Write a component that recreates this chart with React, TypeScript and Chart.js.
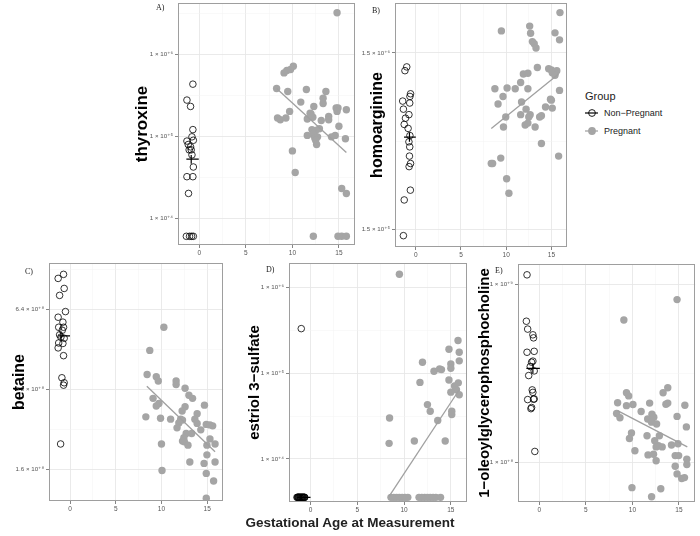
import React, { useEffect, useRef } from "react";
import { Chart, registerables } from "chart.js";
Chart.register(...registerables);

const FONT = "'Liberation Sans', Arial, 'DejaVu Sans', sans-serif";

// ---------- shared x axis ----------
const xMin = -2.3;
const xMax = 16.75;
const xMajorTicks = [0, 5, 10, 15];
const xMinorTicks = [2.5, 7.5, 12.5];

// ---------- A) thyroxine ----------
const thyNonPregAge = [-0.7, -1.34, -0.95, -0.7, -0.8, -0.65, -1.34, -1.2, -0.95, -0.88, -1.1, -0.8, -0.65, -1.34, -0.7, -1.17, -1.4, -1.06, -0.84, -0.65];
const thyNonPregValue = [4.3e5, 2.75e5, 2.3e5, 1.2e5, 9.8e4, 8.9e4, 8.7e4, 7.9e4, 7.4e4, 6.8e4, 6.8e4, 5.9e4, 4.2e4, 3.2e4, 3.2e4, 2.0e4, 6.0e3, 6.0e3, 6.0e3, 6.0e3];
const thyPregAge = [14.8, 9.1, 9.4, 9.8, 10.1, 8.3, 9.5, 11.5, 10.9, 13.6, 13.3, 12.3, 13.3, 14.7, 14.9, 15.8, 14.8, 9.7, 8.4, 8.7, 9.3, 11.6, 11.9, 12.0, 12.2, 13.9, 13.9, 13.1, 15.0, 12.1, 12.5, 12.9, 11.6, 12.2, 12.4, 12.7, 12.5, 12.6, 14.2, 14.6, 15.7, 10.0, 10.3, 15.3, 15.8, 12.25, 14.9, 15.3, 15.8];
const thyPregValue = [3.2e6, 5.9e5, 6.3e5, 6.5e5, 7.1e5, 3.8e5, 3.5e5, 3.7e5, 2.6e5, 3.5e5, 2.9e5, 2.3e5, 2.5e5, 2.2e5, 2.2e5, 2.1e5, 2.0e5, 2.0e5, 1.66e5, 1.58e5, 1.66e5, 1.62e5, 1.9e5, 1.86e5, 1.7e5, 1.74e5, 1.58e5, 1.55e5, 1.32e5, 1.2e5, 1.17e5, 1.23e5, 1.02e5, 1.05e5, 9.5e4, 9.8e4, 8.9e4, 7.9e4, 9.8e4, 1.02e5, 9.3e4, 6.6e4, 3.6e4, 2.3e4, 2.0e4, 6.0e3, 6.0e3, 6.0e3, 6.0e3];
const thyFitAge = [8.3, 15.8];
const thyFitValue = [3.8e5, 6.3e4];
const thyMeanAge = [-1.4, -0.07];
const thyMeanValue = 5.25e4;
const thyMeanBarAge = -0.88;
const thyMeanBarRange = [4.6e4, 5.9e4];
const thyMajorTicks = [1e4, 1e5, 1e6];
const thyMajorLabels = ["1 × 10⁺⁴", "1 × 10⁺⁵", "1 × 10⁺⁶"];
const thyMinorTicks = [3.16e4, 3.16e5, 3.16e6];
const thyRange = [4.7e3, 4.2e6];

// ---------- B) homoarginine ----------
const homNonPregAge = [-1.0, -1.2, -0.58, -0.65, -1.45, -0.67, -1.37, -0.76, -1.14, -1.28, -0.85, -0.65, -0.76, -0.67, -0.7, -0.58, -0.74, -0.6, -1.28, -1.37];
const homNonPregValue = [1.25e6, 1.19e6, 8.8e5, 8.5e5, 8.0e5, 7.8e5, 7.2e5, 6.7e5, 6.4e5, 5.9e5, 5.6e5, 5.1e5, 4.7e5, 4.4e5, 3.9e5, 3.54e5, 3.4e5, 2.5e5, 2.2e5, 1.38e5];
const homPregAge = [15.95, 9.47, 12.6, 12.7, 12.9, 13.1, 13.3, 15.4, 15.9, 13.45, 14.7, 15.0, 15.1, 15.6, 15.4, 11.9, 12.4, 11.6, 8.75, 10.1, 11.0, 12.4, 9.65, 15.9, 9.1, 11.7, 14.9, 15.0, 14.35, 15.1, 12.2, 11.6, 12.65, 12.5, 9.95, 13.7, 13.9, 12.1, 12.4, 13.2, 9.7, 13.9, 15.8, 8.35, 8.5, 9.4, 10.05, 10.3];
const homPregValue = [2.54e6, 2.0e6, 2.13e6, 1.94e6, 1.74e6, 1.69e6, 1.6e6, 1.95e6, 1.78e6, 1.24e6, 1.22e6, 1.2e6, 1.16e6, 1.19e6, 1.12e6, 1.14e6, 1.15e6, 1.02e6, 9.4e5, 9.5e5, 9.4e5, 9.4e5, 8.5e5, 9.2e5, 7.7e5, 7.9e5, 8.2e5, 8.1e5, 7.4e5, 7.3e5, 7.2e5, 6.7e5, 6.7e5, 6.5e5, 6.5e5, 6.5e5, 6.6e5, 5.85e5, 6.0e5, 5.7e5, 5.7e5, 4.6e5, 3.9e5, 3.54e5, 3.54e5, 3.8e5, 2.9e5, 2.4e5];
const homFitAge = [8.35, 15.8];
const homFitValue = [5.6e5, 1.14e6];
const homMeanAge = [-1.3, 0.0];
const homMeanValue = 5.0e5;
const homMeanBarAge = -0.7;
const homMeanBarRange = [4.7e5, 5.3e5];
const homMajorTicks = [1.5e5, 1.5e6];
const homMajorLabels = ["1.5 × 10⁺⁵", "1.5 × 10⁺⁶"];
const homMinorTicks = [4.74e5];
const homRange = [1.19e5, 2.88e6];

// ---------- C) betaine ----------
const betNonPregAge = [-0.71, -1.3, -0.64, -1.14, -0.5, -1.3, -0.78, -1.24, -0.71, -0.85, -1.14, -0.64, -1.0, -1.24, -0.78, -1.3, -0.71, -0.89, -0.64, -0.71, -1.03];
const betNonPregValue = [8.7e8, 8.4e8, 7.7e8, 7.25e8, 6.3e8, 6.0e8, 5.75e8, 5.5e8, 5.5e8, 5.36e8, 5.15e8, 5.0e8, 5.05e8, 4.8e8, 4.78e8, 4.6e8, 4.3e8, 3.55e8, 3.4e8, 3.33e8, 2.0e8];
const betPregAge = [10.26, 8.72, 8.43, 9.43, 9.65, 11.6, 11.6, 12.58, 13.0, 13.4, 9.08, 9.72, 9.43, 12.58, 12.26, 14.7, 13.9, 8.29, 9.9, 11.0, 12.1, 12.3, 13.65, 13.9, 11.9, 11.7, 14.3, 14.9, 15.3, 15.6, 13.3, 12.7, 12.45, 12.3, 12.5, 15.3, 10.0, 12.9, 14.97, 15.86, 14.97, 13.1, 14.66, 15.86, 10.06, 14.9, 15.7, 14.9];
const betPregValue = [5.5e8, 4.5e8, 3.65e8, 3.58e8, 3.45e8, 3.45e8, 3.35e8, 3.24e8, 3.05e8, 2.97e8, 2.97e8, 2.84e8, 2.78e8, 2.76e8, 2.66e8, 2.8e8, 2.6e8, 2.53e8, 2.5e8, 2.48e8, 2.48e8, 2.46e8, 2.48e8, 2.39e8, 2.4e8, 2.3e8, 2.26e8, 2.37e8, 2.36e8, 2.34e8, 2.19e8, 2.19e8, 2.11e8, 2.05e8, 2.04e8, 2.09e8, 2.0e8, 1.98e8, 1.98e8, 2.0e8, 1.82e8, 1.71e8, 1.69e8, 1.71e8, 1.59e8, 1.55e8, 1.45e8, 1.25e8];
const betFitAge = [8.4, 15.86];
const betFitValue = [3.3e8, 1.87e8];
const betMeanAge = [-1.3, 0.0];
const betMeanValue = 5.1e8;
const betMeanBarAge = -1.0;
const betMeanBarRange = [4.93e8, 5.3e8];
const betMajorTicks = [1.6e8, 3.2e8, 6.4e8];
const betMajorLabels = ["1.6 × 10⁺⁸", "3.2 × 10⁺⁸", "6.4 × 10⁺⁸"];
const betMinorTicks = [2.26e8, 4.53e8, 9.05e8];
const betRange = [1.22e8, 9.6e8];

// ---------- D) estriol 3-sulfate ----------
const estNonPregAge = [-0.99, -1.45, -1.38, -1.3, -1.22, -1.15, -1.08, -1.0, -0.92, -0.85, -0.78, -0.7, -0.62, -1.35, -1.1, -0.95, -0.8, -1.25, -0.65];
const estNonPregValue = [3.3e5, 3.57e3, 3.57e3, 3.57e3, 3.57e3, 3.57e3, 3.57e3, 3.57e3, 3.57e3, 3.57e3, 3.57e3, 3.57e3, 3.57e3, 3.57e3, 3.57e3, 3.57e3, 3.57e3, 3.57e3, 3.57e3];
const estPregAge = [9.5, 15.77, 14.8, 15.9, 11.97, 15.0, 15.9, 13.2, 13.8, 14.0, 15.0, 11.7, 14.8, 15.8, 15.4, 15.6, 15.0, 15.9, 12.5, 12.8, 15.1, 15.1, 8.45, 13.6, 11.1, 8.4, 14.4, 8.6, 8.9, 9.2, 9.5, 9.8, 10.1, 10.4, 11.6, 11.9, 12.2, 12.5, 12.8, 13.1, 13.4, 13.9];
const estPregValue = [1.42e6, 2.4e5, 1.9e5, 1.75e5, 1.34e5, 1.28e5, 1.39e5, 1.05e5, 1.12e5, 1.1e5, 1.14e5, 7.8e4, 8.3e4, 7.7e4, 7.1e4, 6.4e4, 6.0e4, 5.6e4, 4.3e4, 3.6e4, 3.6e4, 3.3e4, 3.0e4, 2.8e4, 1.62e4, 1.52e4, 1.62e4, 3.57e3, 3.57e3, 3.57e3, 3.57e3, 3.57e3, 3.57e3, 3.57e3, 3.57e3, 3.57e3, 3.57e3, 3.57e3, 3.57e3, 3.57e3, 3.57e3, 3.57e3];
const estFitAge = [8.4, 15.9];
const estFitValue = [3.66e3, 6.4e4];
const estMeanAge = [-1.45, 0.0];
const estMeanValue = 3.57e3;
const estMeanBarAge = -1.0;
const estMeanBarRange = [3.5e3, 3.65e3];
const estMajorTicks = [1e4, 1e5, 1e6];
const estMajorLabels = ["1 × 10⁺⁴", "1 × 10⁺⁵", "1 × 10⁺⁶"];
const estMinorTicks = [3.16e4, 3.16e5];
const estRange = [3.15e3, 1.92e6];

// ---------- E) 1-oleoylglycerophosphocholine ----------
const oleNonPregAge = [-1.33, -1.4, -1.26, -0.7, -0.63, -1.33, -0.56, -0.84, -0.7, -0.98, -0.56, -1.15, -0.77, -0.7, -1.26, -0.63, -0.56, -0.84, -0.91, -0.49];
const oleNonPregValue = [1.13e9, 6.2e8, 5.6e8, 5.2e8, 5.0e8, 4.15e8, 4.2e8, 3.65e8, 3.7e8, 3.45e8, 3.26e8, 3.07e8, 2.55e8, 2.47e8, 2.25e8, 2.26e8, 2.27e8, 2.03e8, 2.0e8, 1.15e8];
const olePregAge = [14.8, 9.08, 13.8, 13.3, 9.36, 9.6, 8.41, 9.36, 10.06, 11.85, 13.6, 13.8, 15.64, 8.3, 8.66, 10.94, 12.1, 12.3, 11.64, 12.06, 12.6, 14.8, 15.8, 9.9, 9.68, 11.57, 12.9, 12.4, 12.8, 13.2, 12.55, 14.2, 14.9, 10.27, 11.68, 12.27, 12.55, 14.6, 14.97, 15.85, 14.6, 15.85, 14.8, 15.3, 15.6, 9.95, 13.05, 12.06];
const olePregValue = [8.2e8, 6.3e8, 2.62e8, 2.46e8, 2.46e8, 2.36e8, 2.16e8, 2.08e8, 2.11e8, 2.15e8, 2.12e8, 2.15e8, 2.09e8, 1.88e8, 1.78e8, 1.93e8, 1.86e8, 1.79e8, 1.75e8, 1.68e8, 1.64e8, 1.81e8, 1.58e8, 1.46e8, 1.36e8, 1.41e8, 1.41e8, 1.32e8, 1.24e8, 1.22e8, 1.22e8, 1.25e8, 1.27e8, 1.16e8, 1.1e8, 1.11e8, 1.02e8, 1.09e8, 1.09e8, 1.04e8, 9.5e7, 9.7e7, 8.6e7, 8.1e7, 8.2e7, 7.2e7, 7.1e7, 6.4e7];
const oleFitAge = [8.4, 15.9];
const oleFitValue = [1.95e8, 1.22e8];
const oleMeanAge = [-1.4, 0.05];
const oleMeanValue = 3.37e8;
const oleMeanBarAge = -0.7;
const oleMeanBarRange = [3.16e8, 3.6e8];
const oleMajorTicks = [1e8, 1e9];
const oleMajorLabels = ["1 × 10⁺⁸", "1 × 10⁺⁹"];
const oleMinorTicks = [3.16e8];
const oleRange = [5.98e7, 1.3e9];

const PREG_COLOR = "#a5a5a5";

type Spec = {
  tag: string;
  title: string;
  titleSize: number;
  nonAge: number[]; nonVal: number[];
  pAge: number[]; pVal: number[];
  fitAge: number[]; fitVal: number[];
  meanAge: number[]; meanVal: number; barAge: number; barRange: number[];
  major: number[]; majorLabels: string[]; minor: number[]; range: number[];
  plot: { l: number; t: number; r: number; b: number };
  canvasLeft: number; titleCenter: number;
  tagPos: { x: number; y: number };
};

const specs: Spec[] = [
  { tag: "A)", title: "thyroxine", titleSize: 17, nonAge: thyNonPregAge, nonVal: thyNonPregValue, pAge: thyPregAge, pVal: thyPregValue, fitAge: thyFitAge, fitVal: thyFitValue, meanAge: thyMeanAge, meanVal: thyMeanValue, barAge: thyMeanBarAge, barRange: thyMeanBarRange, major: thyMajorTicks, majorLabels: thyMajorLabels, minor: thyMinorTicks, range: thyRange,
    plot: { l: 178, t: 3, r: 358, b: 245 }, canvasLeft: 126, titleCenter: 142, tagPos: { x: 156, y: 3 } },
  { tag: "B)", title: "homoarginine", titleSize: 16, nonAge: homNonPregAge, nonVal: homNonPregValue, pAge: homPregAge, pVal: homPregValue, fitAge: homFitAge, fitVal: homFitValue, meanAge: homMeanAge, meanVal: homMeanValue, barAge: homMeanBarAge, barRange: homMeanBarRange, major: homMajorTicks, majorLabels: homMajorLabels, minor: homMinorTicks, range: homRange,
    plot: { l: 395, t: 3, r: 570, b: 247 }, canvasLeft: 355, titleCenter: 378, tagPos: { x: 372, y: 6 } },
  { tag: "C)", title: "betaine", titleSize: 16, nonAge: betNonPregAge, nonVal: betNonPregValue, pAge: betPregAge, pVal: betPregValue, fitAge: betFitAge, fitVal: betFitValue, meanAge: betMeanAge, meanVal: betMeanValue, barAge: betMeanBarAge, barRange: betMeanBarRange, major: betMajorTicks, majorLabels: betMajorLabels, minor: betMinorTicks, range: betRange,
    plot: { l: 49, t: 263, r: 226, b: 501 }, canvasLeft: 0, titleCenter: 20, tagPos: { x: 25, y: 267 } },
  { tag: "D)", title: "estriol 3−sulfate", titleSize: 15, nonAge: estNonPregAge, nonVal: estNonPregValue, pAge: estPregAge, pVal: estPregValue, fitAge: estFitAge, fitVal: estFitValue, meanAge: estMeanAge, meanVal: estMeanValue, barAge: estMeanBarAge, barRange: estMeanBarRange, major: estMajorTicks, majorLabels: estMajorLabels, minor: estMinorTicks, range: estRange,
    plot: { l: 289, t: 263, r: 470, b: 502 }, canvasLeft: 238, titleCenter: 255, tagPos: { x: 266, y: 265 } },
  { tag: "E)", title: "1−oleoylglycerophosphocholine", titleSize: 15, nonAge: oleNonPregAge, nonVal: oleNonPregValue, pAge: olePregAge, pVal: olePregValue, fitAge: oleFitAge, fitVal: oleFitValue, meanAge: oleMeanAge, meanVal: oleMeanValue, barAge: oleMeanBarAge, barRange: oleMeanBarRange, major: oleMajorTicks, majorLabels: oleMajorLabels, minor: oleMinorTicks, range: oleRange,
    plot: { l: 518, t: 264, r: 698, b: 502 }, canvasLeft: 468, titleCenter: 485, tagPos: { x: 495, y: 266 } },
];

const PAD_TOP = 10;
const PAD_RIGHT = 2;
const X_AXIS_H = 15;

const borderPlugin = {
  id: "panelBorder",
  afterDatasetsDraw(chart: any) {
    const { ctx, chartArea } = chart;
    const { left, top, right, bottom } = chartArea;
    ctx.save();
    ctx.strokeStyle = "#9e9e9e";
    ctx.lineWidth = 1;
    ctx.strokeRect(Math.round(left) + 0.5, Math.round(top) + 0.5, Math.round(right - left) - 1, Math.round(bottom - top) - 1);
    ctx.restore();
  },
};

const near = (a: number, b: number) => Math.abs(a - b) / Math.abs(b) < 1e-6;

function Panel({ s }: { s: Spec }) {
  const ref = useRef<HTMLCanvasElement>(null);
  const cTop = s.plot.t - PAD_TOP;
  const cW = s.plot.r + PAD_RIGHT - s.canvasLeft;
  const cH = s.plot.b + X_AXIS_H - cTop;
  const yAxisW = s.plot.l - s.canvasLeft;
  const titlePad = s.titleCenter - s.canvasLeft - (s.titleSize * 1.2) / 2;

  useEffect(() => {
    const yTicks = [...s.major, ...s.minor].sort((a, b) => a - b);
    const xTicks = [...xMajorTicks, ...xMinorTicks].sort((a, b) => a - b);
    const isYMajor = (v: number) => s.major.some((m) => near(v, m));
    const isXMajor = (v: number) => xMajorTicks.includes(v);
    const chart = new Chart(ref.current as HTMLCanvasElement, {
      type: "scatter",
      data: {
        datasets: [
          { label: "mean", data: s.meanAge.map((x) => ({ x, y: s.meanVal })), showLine: true, borderColor: "#000", borderWidth: 1.2, pointRadius: 0, order: 0 } as any,
          { label: "meanbar", data: s.barRange.map((y) => ({ x: s.barAge, y })), showLine: true, borderColor: "#000", borderWidth: 1.2, pointRadius: 0, order: 0 } as any,
          { label: "fit", data: s.fitAge.map((x, i) => ({ x, y: s.fitVal[i] })), showLine: true, borderColor: "#a0a0a0", borderWidth: 1.3, pointRadius: 0, order: 1 } as any,
          { label: "Non-Pregnant", data: s.nonAge.map((x, i) => ({ x, y: s.nonVal[i] })), pointRadius: 3.3, pointBackgroundColor: "rgba(0,0,0,0)", pointBorderColor: "#000", pointBorderWidth: 0.8, order: 2 } as any,
          { label: "Pregnant", data: s.pAge.map((x, i) => ({ x, y: s.pVal[i] })), pointRadius: 3.7, pointBackgroundColor: PREG_COLOR, pointBorderColor: PREG_COLOR, pointBorderWidth: 0, order: 3 } as any,
        ],
      },
      options: {
        animation: false,
        responsive: false,
        events: [],
        layout: { padding: { top: PAD_TOP, right: PAD_RIGHT, left: 0, bottom: 0 } },
        plugins: { legend: { display: false }, tooltip: { enabled: false } },
        scales: {
          x: {
            type: "linear",
            min: xMin,
            max: xMax,
            afterBuildTicks: (sc: any) => { sc.ticks = xTicks.map((v) => ({ value: v })); },
            afterFit: (sc: any) => { sc.height = X_AXIS_H; },
            border: { display: false },
            grid: {
              color: (c: any) => (c.tick && isXMajor(c.tick.value) ? "#e8e8e8" : "#f3f3f3"),
              lineWidth: (c: any) => (c.tick && isXMajor(c.tick.value) ? 0.9 : 0.5),
              tickLength: 3,
              tickColor: (c: any) => (c.tick && isXMajor(c.tick.value) ? "#777" : "rgba(0,0,0,0)"),
            },
            ticks: {
              autoSkip: false, maxRotation: 0, padding: 1, color: "#555",
              font: { size: 6.5, family: FONT },
              callback: (v: any) => (isXMajor(Number(v)) ? String(v) : ""),
            },
          },
          y: {
            type: "logarithmic",
            min: s.range[0],
            max: s.range[1],
            afterBuildTicks: (sc: any) => { sc.ticks = yTicks.map((v) => ({ value: v })); },
            afterFit: (sc: any) => { sc.width = yAxisW; },
            border: { display: false },
            title: { display: true, text: s.title, color: "#000", font: { size: s.titleSize, weight: "bold", family: FONT, lineHeight: 1.2 }, padding: { top: titlePad, bottom: 0 } },
            grid: {
              color: (c: any) => (c.tick && isYMajor(c.tick.value) ? "#e8e8e8" : "#f3f3f3"),
              lineWidth: (c: any) => (c.tick && isYMajor(c.tick.value) ? 0.9 : 0.5),
              tickLength: 3,
              tickColor: (c: any) => (c.tick && isYMajor(c.tick.value) ? "#777" : "rgba(0,0,0,0)"),
            },
            ticks: {
              autoSkip: false, padding: 2, color: "#555",
              font: { size: 6.2, family: FONT },
              callback: (v: any) => {
                const idx = s.major.findIndex((m) => near(Number(v), m));
                return idx >= 0 ? s.majorLabels[idx] : "";
              },
            },
          },
        },
      } as any,
      plugins: [borderPlugin],
    });
    return () => chart.destroy();
  }, []);

  return (
    <>
      <canvas ref={ref} width={cW} height={cH} style={{ position: "absolute", left: s.canvasLeft, top: cTop, width: cW, height: cH }} />
      <div style={{ position: "absolute", left: s.tagPos.x, top: s.tagPos.y, fontFamily: "'Liberation Serif', 'Times New Roman', serif", fontSize: 8, color: "#222", lineHeight: "9px" }}>{s.tag}</div>
    </>
  );
}

export default function App() {
  return (
    <div style={{ position: "absolute", left: 0, top: 0, width: 700, height: 536, background: "#fff", overflow: "hidden" }}>
      {specs.map((s) => (
        <Panel key={s.tag} s={s} />
      ))}
      <div style={{ position: "absolute", left: 585, top: 90, fontFamily: FONT, fontSize: 11, color: "#222", lineHeight: "13px" }}>Group</div>
      <svg width={18} height={12} style={{ position: "absolute", left: 583, top: 107 }}>
        <line x1={2} y1={6} x2={15} y2={6} stroke="#000" strokeWidth={1.2} />
        <circle cx={9} cy={6} r={3.4} fill="none" stroke="#000" strokeWidth={0.9} />
      </svg>
      <div style={{ position: "absolute", left: 604, top: 107, fontFamily: FONT, fontSize: 9, color: "#222", lineHeight: "12px" }}>Non−Pregnant</div>
      <svg width={18} height={12} style={{ position: "absolute", left: 583, top: 125 }}>
        <line x1={2} y1={6} x2={15} y2={6} stroke={PREG_COLOR} strokeWidth={1.3} />
        <circle cx={9} cy={6} r={3.9} fill={PREG_COLOR} />
      </svg>
      <div style={{ position: "absolute", left: 604, top: 125, fontFamily: FONT, fontSize: 9, color: "#222", lineHeight: "12px" }}>Pregnant</div>
      <div style={{ position: "absolute", left: 0, width: 700, top: 515, textAlign: "center", fontFamily: FONT, fontWeight: "bold", fontSize: 13.5, color: "#222", lineHeight: "16px" }}>Gestational Age at Measurement</div>
    </div>
  );
}
